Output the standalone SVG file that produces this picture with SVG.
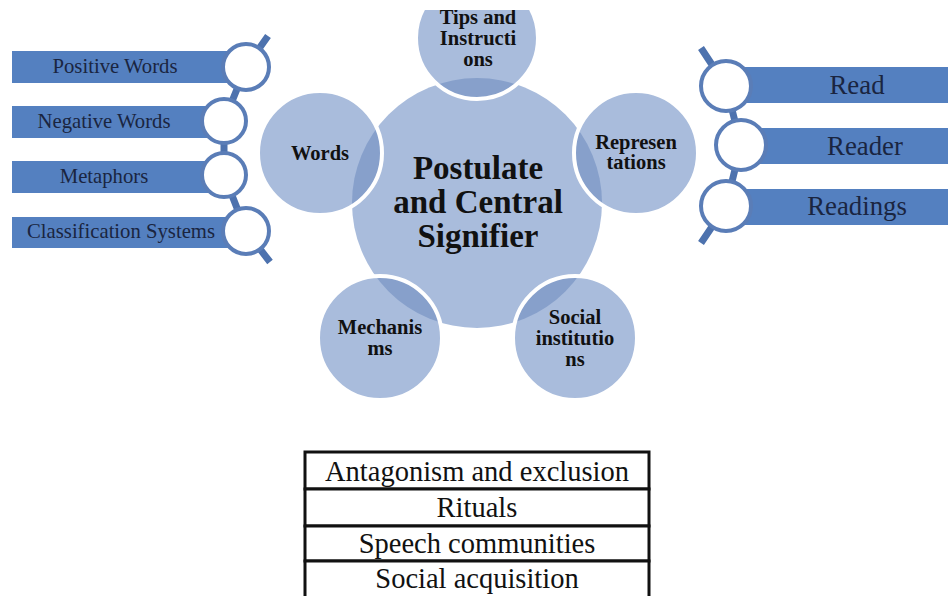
<svg xmlns="http://www.w3.org/2000/svg" width="948" height="596" viewBox="0 0 948 596">
<defs>
<clipPath id="cc"><circle cx="477" cy="203" r="125"/></clipPath>
<clipPath id="top"><rect x="0" y="10" width="948" height="586"/></clipPath>
<style>
.sat{fill:#a9bcdc}
.ov{fill:#87a0cb}
.rim{fill:none;stroke:#fff;stroke-width:4}
.bar{fill:#5480c0}
.ring{fill:#fff;stroke:#5a7db7;stroke-width:4}
.chain{fill:none;stroke:#4d72ae;stroke-width:7;stroke-linejoin:round}
text{font-family:'Liberation Serif','Times New Roman',Times,'DejaVu Serif',serif}
.lt{font-size:20.7px;fill:#1a2540;text-anchor:middle}
.rt{font-size:26.8px;fill:#1a2540;text-anchor:middle}
.st{font-size:20.5px;font-weight:bold;fill:#111;text-anchor:middle}
.ct{font-size:33px;font-weight:bold;fill:#111;text-anchor:middle}
.tb{fill:#fff;stroke:#111;stroke-width:3}
.tt{font-size:28.5px;fill:#111;text-anchor:middle}
</style>
</defs>
<rect width="948" height="596" fill="#fff"/>

<g id="connectors">
<polyline class="chain" points="268,36 246,67 224,121 224,175 246,231 270,262"/>
<polyline class="chain" points="701,48 726,86 741,145 726,206 701,243"/>
</g>

<g id="center">
<circle cx="477" cy="203" r="125" class="sat"/>
</g>

<g id="tips" clip-path="url(#top)">
<circle cx="477" cy="38" r="61" class="sat"/>
<circle cx="477" cy="38" r="61" class="ov" clip-path="url(#cc)"/>
<circle cx="477" cy="38" r="61" class="rim"/>
<text class="st" x="478" y="24">Tips and</text>
<text class="st" x="478" y="45">Instructi</text>
<text class="st" x="478" y="66">ons</text>
</g>

<g id="words">
<circle cx="320" cy="153" r="62" class="sat"/>
<circle cx="320" cy="153" r="62" class="ov" clip-path="url(#cc)"/>
<circle cx="320" cy="153" r="62" class="rim"/>
<text class="st" x="320" y="160">Words</text>
</g>

<g id="representations">
<circle cx="636" cy="153" r="62" class="sat"/>
<circle cx="636" cy="153" r="62" class="ov" clip-path="url(#cc)"/>
<circle cx="636" cy="153" r="62" class="rim"/>
<text class="st" x="636" y="149">Represen</text>
<text class="st" x="636" y="169">tations</text>
</g>

<g id="mechanisms">
<circle cx="380" cy="338" r="62" class="sat"/>
<circle cx="380" cy="338" r="62" class="ov" clip-path="url(#cc)"/>
<circle cx="380" cy="338" r="62" class="rim"/>
<text class="st" x="380" y="334">Mechanis</text>
<text class="st" x="380" y="355">ms</text>
</g>

<g id="social">
<circle cx="575" cy="338" r="62" class="sat"/>
<circle cx="575" cy="338" r="62" class="ov" clip-path="url(#cc)"/>
<circle cx="575" cy="338" r="62" class="rim"/>
<text class="st" x="575" y="324">Social</text>
<text class="st" x="575" y="345">institutio</text>
<text class="st" x="575" y="366">ns</text>
</g>

<g id="center-label">
<text class="ct" x="478" y="179">Postulate</text>
<text class="ct" x="478" y="213">and Central</text>
<text class="ct" x="478" y="247">Signifier</text>
</g>

<g id="positive-words">
<rect class="bar" x="12" y="51" width="234" height="32"/>
<circle class="ring" cx="246" cy="67" r="23"/>
<text class="lt" x="115" y="73">Positive Words</text>
</g>
<g id="negative-words">
<rect class="bar" x="12" y="106" width="212" height="32"/>
<circle class="ring" cx="224" cy="121" r="22"/>
<text class="lt" x="104" y="128">Negative Words</text>
</g>
<g id="metaphors">
<rect class="bar" x="12" y="161" width="212" height="32"/>
<circle class="ring" cx="224" cy="175" r="22"/>
<text class="lt" x="104" y="183">Metaphors</text>
</g>
<g id="classification-systems">
<rect class="bar" x="12" y="217" width="234" height="31"/>
<circle class="ring" cx="246" cy="231" r="23"/>
<text class="lt" x="121" y="238">Classification Systems</text>
</g>

<g id="read">
<rect class="bar" x="726" y="67" width="222" height="36"/>
<circle class="ring" cx="726" cy="86" r="25"/>
<text class="rt" x="857" y="94">Read</text>
</g>
<g id="reader">
<rect class="bar" x="741" y="128" width="207" height="36"/>
<circle class="ring" cx="741" cy="145" r="25"/>
<text class="rt" x="865" y="155">Reader</text>
</g>
<g id="readings">
<rect class="bar" x="726" y="189" width="222" height="36"/>
<circle class="ring" cx="726" cy="206" r="25"/>
<text class="rt" x="857" y="215">Readings</text>
</g>

<g id="table">
<rect class="tb" x="305" y="452" width="344" height="37"/>
<rect class="tb" x="305" y="489" width="344" height="37"/>
<rect class="tb" x="305" y="526" width="344" height="35"/>
<rect class="tb" x="305" y="561" width="344" height="40"/>
<text class="tt" x="477" y="481">Antagonism and exclusion</text>
<text class="tt" x="477" y="517">Rituals</text>
<text class="tt" x="477" y="553">Speech communities</text>
<text class="tt" x="477" y="588">Social acquisition</text>
</g>
</svg>
